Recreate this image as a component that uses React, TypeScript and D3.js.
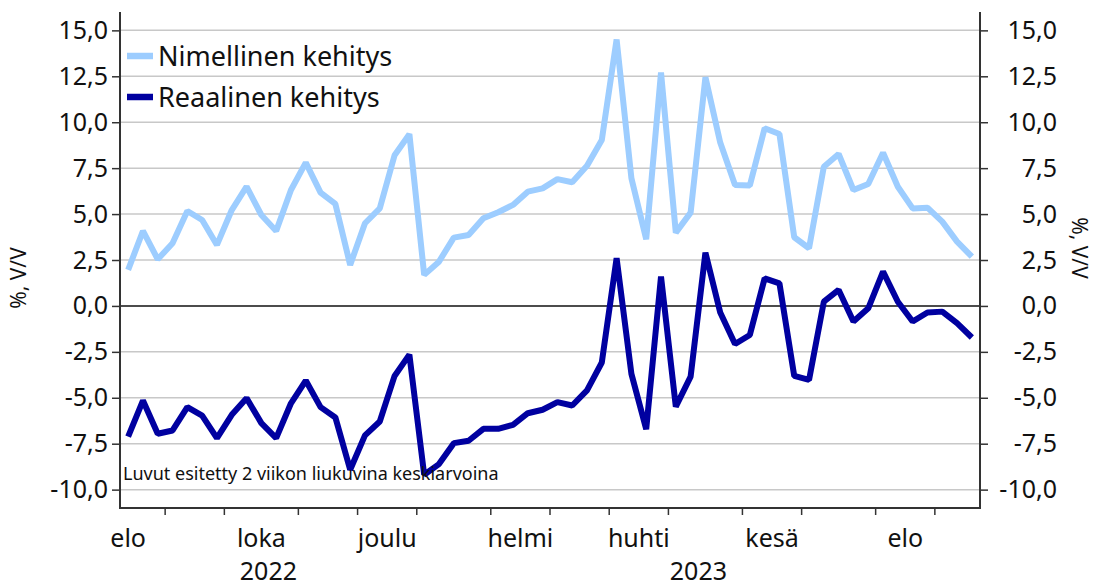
import React, { useEffect, useRef } from "react";
import * as d3 from "d3";

// weekly points (Mondays), 2 week moving averages
const weeks = [
  "2022-08-15", "2022-08-22", "2022-08-29", "2022-09-05", "2022-09-12", "2022-09-19", "2022-09-26",
  "2022-10-03", "2022-10-10", "2022-10-17", "2022-10-24", "2022-10-31", "2022-11-07", "2022-11-14",
  "2022-11-21", "2022-11-28", "2022-12-05", "2022-12-12", "2022-12-19", "2022-12-26", "2023-01-02",
  "2023-01-09", "2023-01-16", "2023-01-23", "2023-01-30", "2023-02-06", "2023-02-13", "2023-02-20",
  "2023-02-27", "2023-03-06", "2023-03-13", "2023-03-20", "2023-03-27", "2023-04-03", "2023-04-10",
  "2023-04-17", "2023-04-24", "2023-05-01", "2023-05-08", "2023-05-15", "2023-05-22", "2023-05-29",
  "2023-06-05", "2023-06-12", "2023-06-19", "2023-06-26", "2023-07-03", "2023-07-10", "2023-07-17",
  "2023-07-24", "2023-07-31", "2023-08-07", "2023-08-14", "2023-08-21", "2023-08-28", "2023-09-04",
  "2023-09-11", "2023-09-18",
];

const nimellinen = [
  1.96, 4.08, 2.54, 3.41, 5.17, 4.68, 3.32, 5.22, 6.49, 4.95, 4.08, 6.31, 7.8, 6.17, 5.55,
  2.23, 4.5, 5.31, 8.2, 9.35, 1.69, 2.41, 3.72, 3.86, 4.77, 5.1, 5.5, 6.22, 6.4, 6.9,
  6.73, 7.63, 9.03, 14.5, 6.95, 3.63, 12.7, 3.99, 5.08, 12.45, 8.89, 6.58, 6.55, 9.67, 9.36,
  3.74, 3.14, 7.58, 8.27, 6.31, 6.64, 8.34, 6.49, 5.31, 5.35, 4.59, 3.5, 2.68,
];

const reaalinen = [
  -7.11, -5.15, -6.96, -6.78, -5.51, -5.97, -7.2, -5.93, -5.02, -6.38, -7.2, -5.3, -4.06, -5.51,
  -6.07, -8.92, -7.05, -6.29, -3.81, -2.65, -9.19, -8.61, -7.47, -7.34, -6.69, -6.69, -6.47,
  -5.84, -5.65, -5.24, -5.42, -4.6, -3.08, 2.6, -3.7, -6.71, 1.6, -5.48, -3.85, 2.9, -0.36,
  -2.07, -1.58, 1.5, 1.23, -3.81, -4.03, 0.23, 0.87, -0.85, -0.13, 1.87, 0.23, -0.85, -0.36,
  -0.31, -0.94, -1.72,
];

const yTicks = [-10, -7.5, -5, -2.5, 0, 2.5, 5, 7.5, 10, 12.5, 15];
const monthNames = ["tammi", "helmi", "maalis", "huhti", "touko", "kesä", "heinä", "elo", "syys", "loka", "marras", "joulu"];
const labelledMonths = ["2022-08", "2022-10", "2022-12", "2023-02", "2023-04", "2023-06", "2023-08"];
const years = ["2022", "2023"];

const seriesList = [
  { name: "Nimellinen kehitys", values: nimellinen, color: "#9dcdff" },
  { name: "Reaalinen kehitys", values: reaalinen, color: "#0000a0" },
];

const App = () => {
  const svgRef = useRef<SVGSVGElement>(null);

  useEffect(() => {
    const W = 1093, H = 587;
    const left = 120, right = 980, top = 12, bottom = 508;
    const font = "'Noto Sans', sans-serif";

    const svg = d3.select(svgRef.current).attr("width", W).attr("height", H);
    svg.selectAll("*").remove();

    const parse = d3.timeParse("%Y-%m-%d");
    const dates = weeks.map((w) => parse(w) as Date);
    const start = dates[0];
    const idx = (d: Date) => Math.round((d.getTime() - start.getTime()) / (7 * 864e5));

    const x = d3.scaleLinear().domain([-0.55, dates.length - 1 + 0.55]).range([left, right]);
    const y = d3.scaleLinear().domain([-11, 16]).range([bottom, top]);

    const fi = d3.formatLocale({ decimal: ",", thousands: " ", grouping: [3], currency: ["", "€"], minus: "-" });
    const fmt = fi.format(".1f");

    // grid
    svg.append("g").selectAll("line").data(yTicks.filter((t) => t !== 0)).enter().append("line")
      .attr("x1", left).attr("x2", right).attr("y1", (d) => y(d)).attr("y2", (d) => y(d))
      .attr("stroke", "#c8c8c8").attr("stroke-width", 1.5);
    svg.append("line").attr("x1", left).attr("x2", right).attr("y1", y(0)).attr("y2", y(0))
      .attr("stroke", "#111").attr("stroke-width", 1.5);

    // lines
    const line = d3.line<number>().x((_, i) => x(i)).y((d) => y(d));
    seriesList.forEach((s) => {
      svg.append("path").datum(s.values).attr("d", line).attr("fill", "none")
        .attr("stroke", s.color).attr("stroke-width", 6).attr("stroke-linejoin", "bevel");
    });

    // y axes
    const yLeft = svg.append("g").attr("transform", `translate(${left},0)`)
      .call(d3.axisLeft(y).tickValues(yTicks).tickFormat((d) => fmt(d as number)).tickSize(8).tickPadding(4));
    const yRight = svg.append("g").attr("transform", `translate(${right},0)`)
      .call(d3.axisRight(y).tickValues(yTicks).tickFormat((d) => fmt(d as number)).tickSize(8).tickPadding(4));
    yRight.selectAll("text").attr("text-anchor", "end").attr("x", 77);
    [yLeft, yRight].forEach((g) => {
      g.select(".domain").remove();
      g.selectAll("line").attr("stroke", "#333").attr("stroke-width", 1.5);
      g.selectAll("text").attr("font-family", font).attr("font-size", 25).attr("fill", "#111");
    });

    // spines
    svg.append("path").attr("d", `M${left},${top}V${bottom}H${right}V${top}`)
      .attr("fill", "none").attr("stroke", "#333").attr("stroke-width", 2);

    // month ticks
    const months = d3.timeMonth.range(new Date(2022, 8, 1), new Date(2023, 9, 1));
    const bounds = months.map((m) => idx(d3.timeMonday.ceil(m)) - 0.5);
    svg.append("g").selectAll("line").data(bounds).enter().append("line")
      .attr("x1", (d) => x(d)).attr("x2", (d) => x(d)).attr("y1", bottom).attr("y2", bottom + 7)
      .attr("stroke", "#333").attr("stroke-width", 1.5);

    // month labels, centred on each month's weeks
    const monthParse = d3.timeParse("%Y-%m");
    svg.append("g").selectAll("text").data(labelledMonths).enter().append("text")
      .attr("x", (m) => {
        const ms = monthParse(m) as Date;
        const a = idx(d3.timeMonday.ceil(ms)) - 0.5;
        const b = idx(d3.timeMonday.ceil(d3.timeMonth.offset(ms, 1))) - 0.5;
        return x((a + b) / 2);
      })
      .attr("y", 547).attr("text-anchor", "middle").attr("font-family", font).attr("font-size", 25)
      .attr("fill", "#111").text((m) => monthNames[(monthParse(m) as Date).getMonth()]);

    // year labels
    const jan = x(idx(d3.timeMonday.ceil(new Date(2023, 0, 1))) - 0.5);
    svg.append("g").selectAll("text").data(years).enter().append("text")
      .attr("x", (d, i) => (i === 0 ? (left + jan) / 2 : (jan + right) / 2))
      .attr("y", 580).attr("text-anchor", "middle").attr("font-family", font).attr("font-size", 25)
      .attr("fill", "#111").text((d) => d);

    // axis titles
    svg.append("text").attr("transform", "translate(26,278) rotate(-90)").attr("text-anchor", "middle")
      .attr("font-family", font).attr("font-size", 21).attr("fill", "#111").text("%, V/V");
    svg.append("text").attr("transform", "translate(1072,248) rotate(90)").attr("text-anchor", "middle")
      .attr("font-family", font).attr("font-size", 21).attr("fill", "#111").text("%, V/V");

    // legend
    seriesList.forEach((s, i) => {
      const ly = 56 + i * 41;
      svg.append("line").attr("x1", 127).attr("x2", 153).attr("y1", ly).attr("y2", ly)
        .attr("stroke", s.color).attr("stroke-width", 6.5);
      svg.append("text").attr("x", 158).attr("y", ly + 10).attr("font-family", font).attr("font-size", 27)
        .attr("fill", "#111").text(s.name);
    });

    svg.append("text").attr("x", 123).attr("y", 480).attr("font-family", font).attr("font-size", 18)
      .attr("fill", "#111").text("Luvut esitetty 2 viikon liukuvina keskiarvoina");
  }, []);

  return <svg ref={svgRef} style={{ position: "absolute", left: 0, top: 0, background: "#fff" }}></svg>;
};

export default App;
